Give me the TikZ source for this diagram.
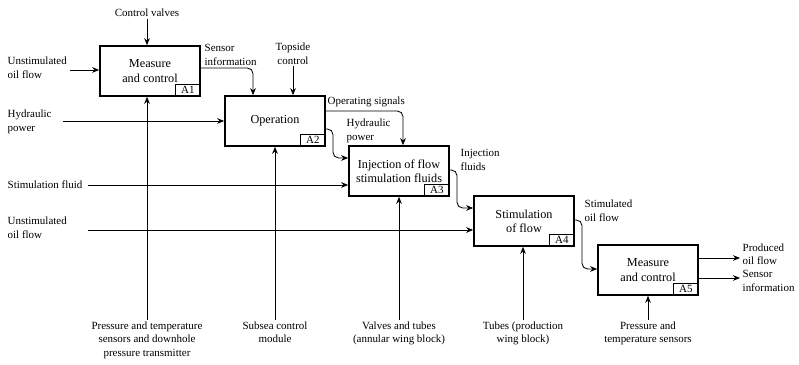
\documentclass[tikz,border=0pt]{standalone}
\usepackage{fontspec}
\setmainfont{Liberation Serif}
\usetikzlibrary{arrows.meta,positioning}

\begin{document}
\begin{tikzpicture}[x=0.025cm,y=-0.025cm,
  fn/.style={draw,line width=1.1pt,minimum width=2.5cm,minimum height=1.25cm,align=center,font=\fontsize{8.7}{10.2}\selectfont},
  tag/.style={draw,line width=0.6pt,minimum width=0.625cm,minimum height=0.3cm,inner sep=0pt,anchor=south east,font=\fontsize{7.8}{9}\selectfont},
  lbl/.style={align=left,font=\fontsize{7.8}{9.6}\selectfont,inner sep=1pt},
  flow/.style={line width=0.6pt,-{Stealth[length=5pt,width=4pt]},rounded corners=4pt}
]
  \useasboundingbox (0,0) rectangle (799,365);

  % activities
  \node[fn] (A1) at (150,71) {Measure\\and control};
  \node[tag] at (A1.south east) {A1};
  \node[fn] (A2) at (275,121) {Operation};
  \node[tag] at (A2.south east) {A2};
  \node[fn] (A3) at (399,171) {Injection of flow\\stimulation fluids};
  \node[tag] at (A3.south east) {A3};
  \node[fn] (A4) at (524,221) {Stimulation\\of flow};
  \node[tag] at (A4.south east) {A4};
  \node[fn] (A5) at (648,270) {Measure\\and control};
  \node[tag] at (A5.south east) {A5};

  % controls and inputs
  \node[lbl,align=center] (cv) at (147,13) {Control valves};
  \draw[flow] (cv.south) -- (cv.south |- A1.north);
  \node[lbl,anchor=west] (uoil1) at (6,68) {Unstimulated\\oil flow};
  \coordinate (u1) at (70,70);
  \draw[flow] (u1) -- (u1 -| A1.west);

  \node[lbl,anchor=west] (sinfo) at (203,55) {Sensor\\information};
  \coordinate (s1) at (253,68);
  \draw[flow] (A1.east |- s1) -- (s1) -- (s1 |- A2.north);
  \node[lbl,align=center] (top) at (293,54) {Topside\\control};
  \draw[flow] (top.south) -- (top.south |- A2.north);
  \node[lbl,anchor=west] (hyd1) at (6,122) {Hydraulic\\power};
  \coordinate (h0) at (63,121);
  \draw[flow] (h0) -- (h0 -| A2.west);

  \node[lbl,anchor=west] (opsig) at (326,102) {Operating signals};
  \coordinate (o1) at (403,111);
  \draw[flow] (A2.east |- o1) -- (o1) -- (o1 |- A3.north);
  \node[lbl,anchor=west] (hyd2) at (345,131) {Hydraulic\\power};
  \coordinate (h1) at (333,129);
  \coordinate (h2) at (333,158);
  \draw[flow] (A2.east |- h1) -- (h1) -- (h2) -- (h2 -| A3.west);
  \node[lbl,anchor=west] (sfl) at (6,185) {Stimulation fluid};
  \coordinate (f0) at (88,185);
  \draw[flow] (f0) -- (f0 -| A3.west);

  \node[lbl,anchor=west] (inj) at (459,160) {Injection\\fluids};
  \coordinate (i1) at (457,170);
  \coordinate (i2) at (457,208);
  \draw[flow] (A3.east |- i1) -- (i1) -- (i2) -- (i2 -| A4.west);
  \node[lbl,anchor=west] (uoil2) at (6,228) {Unstimulated\\oil flow};
  \coordinate (u2) at (88,230);
  \draw[flow] (u2) -- (u2 -| A4.west);

  \node[lbl,anchor=west] (soil) at (583,211) {Stimulated\\oil flow};
  \coordinate (t1) at (582,220);
  \coordinate (t2) at (582,269);
  \draw[flow] (A4.east |- t1) -- (t1) -- (t2) -- (t2 -| A5.west);

  % outputs
  \coordinate (p1) at (740,258);
  \coordinate (p2) at (740,278);
  \draw[flow] (A5.east |- p1) -- (p1);
  \draw[flow] (A5.east |- p2) -- (p2);
  \node[lbl,anchor=west] (prod) at (741,254) {Produced\\oil flow};
  \node[lbl,anchor=west] (sinfo2) at (741,281) {Sensor\\information};

  % mechanisms
  \node[lbl,align=center,anchor=north] (m1) at (147,320) {Pressure and temperature\\sensors and downhole\\pressure transmitter};
  \draw[flow] (m1.north) -- (m1.north |- A1.south);
  \node[lbl,align=center,anchor=north] (m2) at (275,320) {Subsea control\\module};
  \draw[flow] (m2.north) -- (m2.north |- A2.south);
  \node[lbl,align=center,anchor=north] (m3) at (399,320) {Valves and tubes\\(annular wing block)};
  \draw[flow] (m3.north) -- (m3.north |- A3.south);
  \node[lbl,align=center,anchor=north] (m4) at (523,320) {Tubes (production\\wing block)};
  \draw[flow] (m4.north) -- (m4.north |- A4.south);
  \node[lbl,align=center,anchor=north] (m5) at (648,320) {Pressure and\\temperature sensors};
  \draw[flow] (m5.north) -- (m5.north |- A5.south);
\end{tikzpicture}
\end{document}
